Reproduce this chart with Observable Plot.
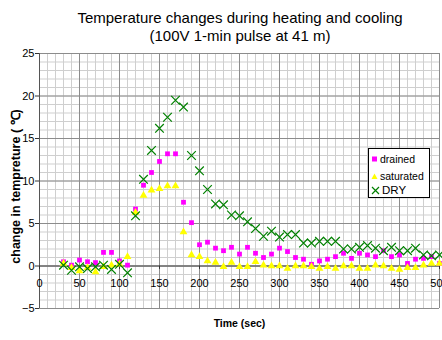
<!DOCTYPE html>
<html><head><meta charset="utf-8">
<script src="https://cdn.jsdelivr.net/npm/d3@7"></script>
<script src="https://cdn.jsdelivr.net/npm/@observablehq/plot@0.6"></script>
<style>
body{margin:0;background:#fff;font-family:"Liberation Sans",Arial,sans-serif;overflow:hidden;}
#wrap{position:relative;width:442px;height:340px;overflow:hidden;}
#title{height:45px;box-sizing:border-box;padding-top:9px;padding-left:38px;text-align:center;font-size:15px;line-height:18px;color:#000;}
#legend{position:absolute;left:368px;top:148px;width:62px;height:50px;border:1px solid #000;background:#fff;font-size:10.5px;box-sizing:border-box;}
#legend .row{position:absolute;left:2px;height:14px;line-height:14px;display:flex;align-items:center;white-space:nowrap;}
#legend svg{margin-right:2px;}
</style>
</head><body>
<div id="wrap">
<div id="title">Temperature changes during heating and cooling<br>(100V 1-min pulse at 41 m)</div>
<div id="chart"></div>
<div id="legend"></div>
</div>
<script>
const time = [30,40,50,60,70,80,90,100,110,120,130,140,150,160,170,180,190,200,210,220,230,240,250,260,270,280,290,300,310,320,330,340,350,360,370,380,390,400,410,420,430,440,450,460,470,480,490,500];
const drained = [0.5,0.1,0.7,0.5,0.4,1.6,1.6,0.6,0.1,6.7,9.5,11.0,12.3,13.2,13.2,7.5,5.1,2.5,2.8,2.1,1.8,2.2,1.4,2.2,1.5,1.0,1.4,2.1,1.7,1.0,0.8,0.2,0.6,0.8,1.1,1.5,0.9,1.5,1.3,1.1,1.8,1.1,1.3,0.3,0.8,0.9,1.1,0.3];
const saturated = [0.3,-0.2,-0.6,-0.2,-0.7,-0.1,0.1,0.2,1.1,6.3,8.3,8.9,9.1,9.4,9.4,4.0,1.3,1.1,0.6,0.4,-0.1,0.4,-0.1,-0.1,0.5,0.1,0.0,0.0,-0.3,0.0,0.0,-0.1,-0.3,-0.1,-0.3,0.0,0.0,-0.3,-0.3,0.1,0.0,-0.3,-0.4,-0.2,-0.2,0.1,0.3,0.3];
const dry = [0.1,-0.5,-0.1,-0.3,-0.1,0.1,-0.4,0.2,-0.8,5.9,10.2,13.6,16.2,17.5,19.5,18.7,13.0,11.2,9.0,7.3,7.2,6.0,5.9,5.2,4.4,3.5,4.1,3.4,3.7,3.7,2.7,2.7,2.9,2.9,2.9,2.0,2.0,2.2,2.4,2.1,1.8,2.2,1.8,1.8,2.1,1.3,1.2,1.3];
const seriesNames = ["drained","saturated","DRY"];
const xTicks = [0,50,100,150,200,250,300,350,400,450,500];
const yTicks = [-5,0,5,10,15,20,25];
const xMinor = [0,10,20,30,40,50,60,70,80,90,100,110,120,130,140,150,160,170,180,190,200,210,220,230,240,250,260,270,280,290,300,310,320,330,340,350,360,370,380,390,400,410,420,430,440,450,460,470,480,490,500];
const yMinor = [-5,-4,-3,-2,-1,0,1,2,3,4,5,6,7,8,9,10,11,12,13,14,15,16,17,18,19,20,21,22,23,24,25];
const titleX = "Time (sec)";
const titleY = "change in tempreture ( \u2103)";

const colors = {drained:"#ff00ff", saturated:"#ffff00", DRY:"#008000"};
const rows = time.map((t,i)=>({t, drained:drained[i], saturated:saturated[i], dry:dry[i]}));

const chart = Plot.plot({
  width: 442, height: 295,
  marginLeft: 39, marginRight: 3, marginTop: 8, marginBottom: 32,
  style: {fontFamily: "'Liberation Sans', Arial, sans-serif", fontSize: "11px", background: "#fff", overflow: "visible"},
  x: {domain: [0, 500], axis: null},
  y: {domain: [-5, 25], axis: null},
  marks: [
    Plot.ruleX(xMinor, {x: d => d, stroke: "#cfcfcf", strokeWidth: 1}),
    Plot.ruleY(yMinor, {y: d => d, stroke: "#cfcfcf", strokeWidth: 1}),
    Plot.ruleX(xTicks, {x: d => d, stroke: "#8c8c8c", strokeWidth: 1}),
    Plot.ruleY(yTicks, {y: d => d, stroke: "#8c8c8c", strokeWidth: 1}),
    Plot.ruleY([0], {stroke: "#707070", strokeWidth: 1.6}),
    Plot.ruleX([0], {stroke: "#555", strokeWidth: 1}),
    Plot.ruleX(xTicks, {x: d => d, y1: 0, y2: -0.4, stroke: "#333", strokeWidth: 1}),
    Plot.axisY(yTicks, {tickSize: 4, tickPadding: 1, label: null, stroke: "#333", fontSize: 11}),
    Plot.text(xTicks, {x: d => d, y: d => 0, dy: 17, text: d => String(d), fontSize: 11, fill: "#000"}),
    Plot.dot(rows, {x: "t", y: "drained", symbol: "square", r: 2.7, fill: colors.drained, stroke: null}),
    Plot.dot(rows, {x: "t", y: "saturated", symbol: "triangle", r: 2.9, fill: colors.saturated, stroke: null}),
    Plot.dot(rows, {x: "t", y: "dry", symbol: "times", r: 4, stroke: colors.DRY, strokeWidth: 1.2, fill: "none"}),
    Plot.text([titleY], {frameAnchor: "left", textAnchor: "middle", rotate: -90, dx: -24, dy: 5.5, fontWeight: "bold", fontSize: 12.5, fill: "#000"}),
    Plot.text([titleX], {frameAnchor: "bottom", dy: 18, fontWeight: "bold", fontSize: 10.5, fill: "#000"})
  ]
});
document.getElementById("chart").appendChild(chart);

// legend
const leg = document.getElementById("legend");
const symSvg = {
  drained: '<svg width="7" height="8"><rect x="1" y="1.5" width="5" height="5" fill="#ff00ff"/></svg>',
  saturated: '<svg width="7" height="8"><path d="M3.5,1.5 L6.5,7 L0.5,7 Z" fill="#ffff00"/></svg>',
  DRY: '<svg width="9" height="9"><path d="M1,1 L8,8 M8,1 L1,8" stroke="#008000" stroke-width="1.2"/></svg>'
};
const rowTops = [3, 20, 34];
seriesNames.forEach((name, i) => {
  const r = document.createElement("div");
  r.className = "row";
  r.style.top = rowTops[i] + "px";
  r.innerHTML = symSvg[name] + "<span>" + name + "</span>";
  if (name === "DRY") r.style.fontSize = "11.5px";
  leg.appendChild(r);
});
</script>
</body></html>
